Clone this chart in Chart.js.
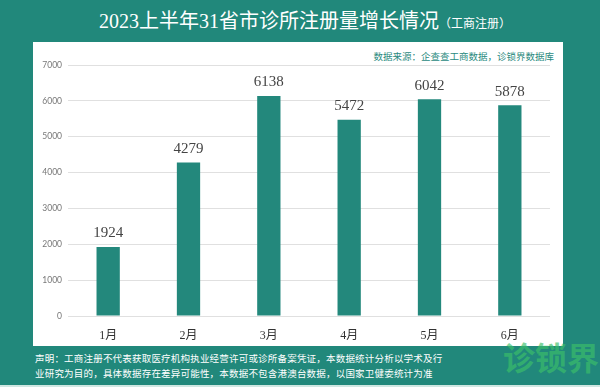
<!DOCTYPE html>
<html>
<head>
<meta charset="utf-8">
<script src="https://cdn.jsdelivr.net/npm/chart.js@4.4.0/dist/chart.umd.min.js"></script>
<style>
  html, body { margin: 0; padding: 0; }
  body { width: 600px; height: 387px; background: #21887b; position: relative; overflow: hidden; }
  .title { position: absolute; left: 0; width: 610px; top: 5px; text-align: center; color: #fff;
    font-family: "Liberation Serif", "Noto Sans CJK SC", serif; font-size: 20px; }
  .title small { font-size: 12px; }
  .panel { position: absolute; left: 33px; top: 42px; width: 530px; height: 304px; background: #fff; }
  .source { position: absolute; right: 46px; top: 49px; color: #2a8a7e; font-size: 9.5px;
    font-family: "Noto Sans CJK SC", sans-serif; }
  .foot { position: absolute; left: 35px; top: 351px; color: #fff; font-size: 9.5px; line-height: 15px;
    letter-spacing: 0.2px; font-family: "Noto Sans CJK SC", sans-serif; }
  .logo { position: absolute; left: 503px; top: 333px; color: #3cc06a; opacity: 0.65; font-size: 32px;
    font-weight: bold; font-family: "Noto Sans CJK SC", sans-serif; }
  .edge { position: absolute; left: 0; top: 385px; width: 600px; height: 2px; background: #cfe7e2; }
  canvas { position: absolute; left: 0; top: 0; }
</style>
</head>
<body>
<div class="title">2023上半年31省市诊所注册量增长情况<small>（工商注册）</small></div>
<div class="panel"></div>
<div class="source">数据来源：企查查工商数据，诊锁界数据库</div>
<div class="foot">声明：工商注册不代表获取医疗机构执业经营许可或诊所备案凭证，本数据统计分析以学术及行<br>业研究为目的，具体数据存在差异可能性，本数据不包含港澳台数据，以国家卫健委统计为准</div>
<div class="logo">诊锁界</div>
<div class="edge"></div>
<canvas id="myChart" width="600" height="387"></canvas>
<script>
const months = ['1月', '2月', '3月', '4月', '5月', '6月'];
const registrations = [1924, 4279, 6138, 5472, 6042, 5878];
const yTicks = [0, 1000, 2000, 3000, 4000, 5000, 6000, 7000];

// numbers above bars
const valueLabels = {
    id: 'valueLabels',
    afterDatasetsDraw(chart) {
        const c = chart.ctx;
        const meta = chart.getDatasetMeta(0);
        c.save();
        c.font = '15px "Liberation Serif", serif';
        c.fillStyle = '#444';
        c.textAlign = 'center';
        c.textBaseline = 'bottom';
        meta.data.forEach((bar, i) => {
            c.fillText(registrations[i], bar.x, bar.y - 6);
        });
        c.restore();
    }
};

const ctx = document.getElementById('myChart').getContext('2d');
const myChart = new Chart(ctx, {
    type: 'bar',
    data: {
        labels: months,
        datasets: [{
            data: registrations,
            backgroundColor: '#23887c',
            barPercentage: 0.29,
            categoryPercentage: 1
        }]
    },
    options: {
        responsive: false,
        animation: false,
        layout: { padding: { top: 65, right: 50, left: 0, bottom: 0 } },
        plugins: { legend: { display: false }, tooltip: { enabled: false } },
        scales: {
            x: {
                grid: { display: false },
                border: { display: false },
                ticks: { color: '#333', padding: 5, font: { family: '"Liberation Serif", "Noto Sans CJK SC", serif', size: 12 } },
                afterFit(scale) { scale.height = 71; }
            },
            y: {
                min: 0,
                max: 7000,
                afterBuildTicks(scale) { scale.ticks = yTicks.map(v => ({ value: v })); },
                grid: { color: '#e0e0e0', drawTicks: false },
                border: { display: false },
                ticks: {
                    color: '#777', padding: 6,
                    font: { family: 'Lato, sans-serif', size: 8.5 },
                    callback: v => String(v)
                },
                afterFit(scale) { scale.width = 68; }
            }
        }
    },
    plugins: [valueLabels]
});
</script>
</body>
</html>
